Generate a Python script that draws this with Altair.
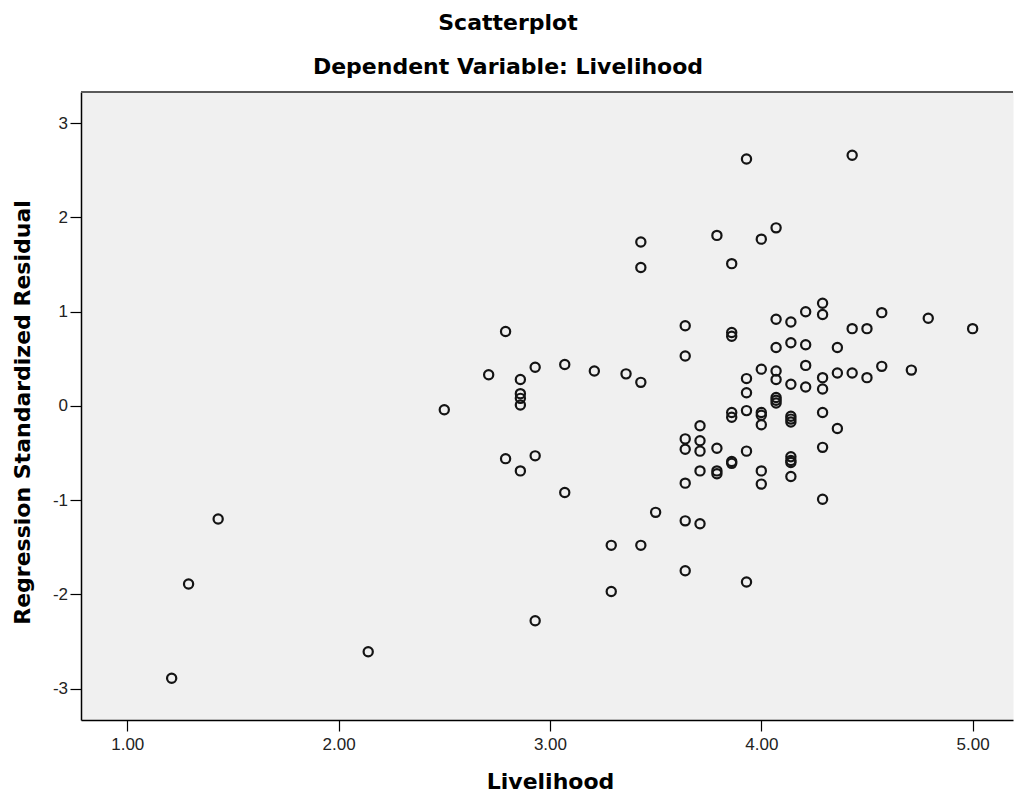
import altair as alt
import pandas as pd

# Livelihood (x) values and regression standardized residuals (y)
livelihood = (
    [1.21, 1.29, 1.43, 2.14, 2.50, 2.71]
    + [2.79] * 2
    + [2.86] * 5
    + [2.93] * 3
    + [3.07] * 2
    + [3.21]
    + [3.29] * 2
    + [3.36]
    + [3.43] * 4
    + [3.50]
    + [3.64] * 7
    + [3.71] * 5
    + [3.79] * 4
    + [3.86] * 7
    + [3.93] * 6
    + [4.00] * 7
    + [4.07] * 8
    + [4.14] * 10
    + [4.21] * 4
    + [4.29] * 7
    + [4.36] * 3
    + [4.43] * 3
    + [4.50] * 2
    + [4.57] * 2
    + [4.71, 4.79, 5.00]
)
residual = (
    [-2.89, -1.89, -1.20, -2.61, -0.04, 0.33]
    + [0.79, -0.56]
    + [0.28, 0.13, 0.08, 0.01, -0.69]
    + [0.41, -0.53, -2.28]
    + [0.44, -0.92]
    + [0.37]
    + [-1.48, -1.97]
    + [0.34]
    + [1.74, 1.47, 0.25, -1.48]
    + [-1.13]
    + [0.85, 0.53, -0.35, -0.46, -0.82, -1.22, -1.75]
    + [-0.21, -0.37, -0.48, -0.69, -1.25]
    + [1.81, -0.45, -0.69, -0.72]
    + [1.51, 0.78, 0.74, -0.07, -0.12, -0.59, -0.61]
    + [2.62, 0.29, 0.14, -0.05, -0.48, -1.87]
    + [1.77, 0.39, -0.07, -0.10, -0.20, -0.69, -0.83]
    + [1.89, 0.92, 0.62, 0.37, 0.28, 0.09, 0.06, 0.03]
    + [0.89, 0.67, 0.23, -0.11, -0.14, -0.17, -0.54, -0.58, -0.60, -0.75]
    + [1.00, 0.65, 0.43, 0.20]
    + [1.09, 0.97, 0.30, 0.18, -0.07, -0.44, -0.99]
    + [0.62, 0.35, -0.24]
    + [2.66, 0.82, 0.35]
    + [0.82, 0.30]
    + [0.99, 0.42]
    + [0.38, 0.93, 0.82]
)

x_ticks = [1, 2, 3, 4, 5]
y_ticks = [-3, -2, -1, 0, 1, 2, 3]

df = pd.DataFrame({"Livelihood": livelihood, "Residual": residual})

W, H = 932, 628

points = alt.Chart(df).mark_point(
    shape="circle", filled=False, size=85, strokeWidth=2.2, color="#141414", opacity=1
).encode(
    x=alt.X(
        "Livelihood:Q",
        scale=alt.Scale(domain=[0.781, 5.191], nice=False, zero=False),
        axis=alt.Axis(
            values=x_ticks,
            format=".2f",
            title="Livelihood",
            titleFont="DejaVu Sans",
            titleFontSize=22,
            titleFontWeight="bold",
            titleColor="#000000",
            titleX=469,
            titleY=68,
            titleBaseline="alphabetic",
            labelFont="Liberation Sans",
            labelFontSize=17,
            labelColor="#222222",
            labelPadding=5,
            tickSize=11,
            tickColor="#000000",
            tickWidth=1.2,
            domainColor="#000000",
            domainWidth=1.5,
            grid=False,
        ),
    ),
    y=alt.Y(
        "Residual:Q",
        scale=alt.Scale(domain=[-3.334, 3.332], nice=False, zero=False),
        axis=alt.Axis(
            values=y_ticks,
            labelExpr="datum.value < 0 ? '-' + abs(datum.value) : '' + datum.value",
            title="Regression Standardized Residual",
            titleFont="DejaVu Sans",
            titleFontSize=22,
            titleFontWeight="bold",
            titleColor="#000000",
            titleX=-52,
            titleY=320,
            titleAngle=270,
            titleBaseline="alphabetic",
            labelFont="Liberation Sans",
            labelFontSize=17,
            labelColor="#222222",
            labelPadding=2.5,
            tickSize=11,
            tickColor="#000000",
            tickWidth=1.2,
            domainColor="#000000",
            domainWidth=1.5,
            grid=False,
        ),
    ),
)

top_border = alt.Chart(pd.DataFrame({"a": [0]})).mark_rule(
    color="#5a5a5a", strokeWidth=2
).encode(x=alt.value(0), x2=alt.value(W), y=alt.value(0))

chart = (
    alt.layer(points, top_border)
    .properties(
        width=W,
        height=H,
        padding={"left": 81, "top": 92, "right": 1, "bottom": 75},
        autosize=alt.AutoSizeParams(type="none"),
        background="white",
        title=alt.TitleParams(
            text="Scatterplot",
            subtitle="Dependent Variable: Livelihood",
            font="DejaVu Sans",
            fontSize=22,
            fontWeight="bold",
            color="#000000",
            subtitleFont="DejaVu Sans",
            subtitleFontSize=22,
            subtitleFontWeight="bold",
            subtitleColor="#000000",
            subtitlePadding=22,
            anchor="middle",
            dx=-39,
            offset=12,
        ),
    )
    .configure_view(fill="#f0f0f0", stroke="transparent")
)

chart.save("out.html", embed_options={"renderer": "svg", "actions": False})
